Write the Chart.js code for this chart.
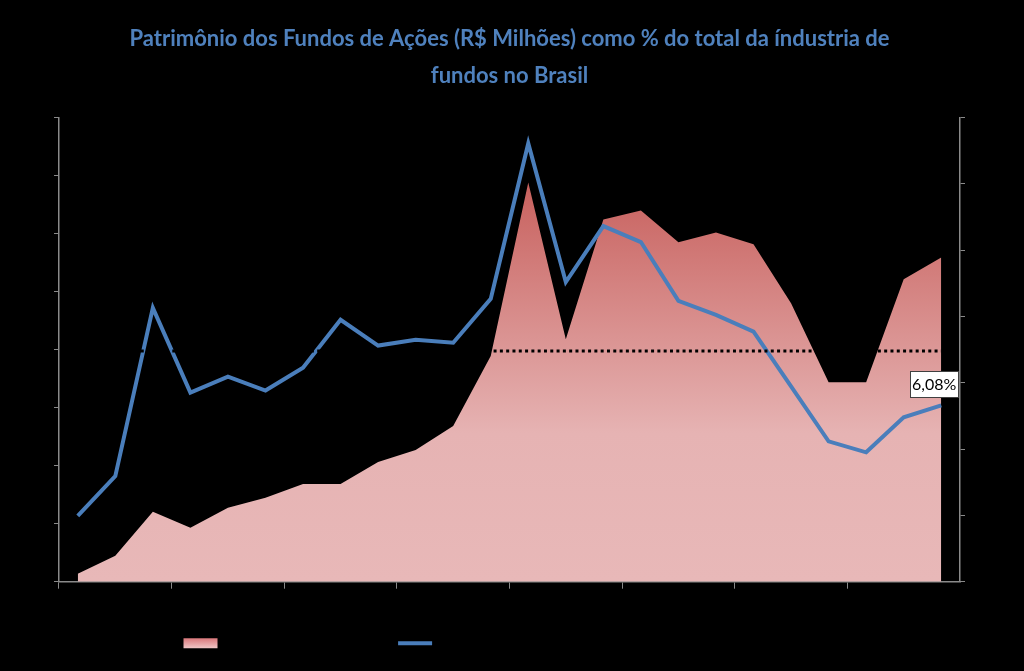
<!DOCTYPE html>
<html>
<head>
<meta charset="utf-8">
<script src="https://cdn.jsdelivr.net/npm/chart.js@4.4.1/dist/chart.umd.min.js"></script>
<style>
  html, body { margin: 0; padding: 0; background: #000; }
  #wrap { width: 1024px; height: 671px; }
</style>
</head>
<body>
<div id="wrap"><canvas id="chart" width="1024" height="671"></canvas></div>
<script>
// Years on the category axis (labels are black on black, as in the original)
const years = ['1995', '1996', '1997', '1998', '1999', '2000', '2001', '2002',
    '2003', '2004', '2005', '2006', '2007', '2008', '2009', '2010',
    '2011', '2012', '2013', '2014', '2015', '2016', '2017', '2018'];

// Patrimônio dos fundos de ações, R$ milhões (left axis)
const patrimonio = [2750, 8950, 24100, 18600, 25500, 28900, 33700, 33700,
    41300, 45400, 53700, 77800, 137600, 83600, 124900, 128000,
    117000, 120400, 116300, 96000, 68800, 68800, 104300, 111800];

// Participação no total da indústria de fundos, % (right axis)
const participacao = [2.27, 3.64, 9.44, 6.52, 7.07, 6.59, 7.38, 9.03,
    8.14, 8.34, 8.24, 9.75, 15.11, 10.33, 12.26, 11.71,
    9.68, 9.20, 8.62, 6.73, 4.84, 4.46, 5.67, 6.08];

// Dotted reference level (left axis)
const media = [79500, 79500, 79500, 79500, 79500, 79500, 79500, 79500,
    79500, 79500, 79500, 79500, 79500, 79500, 79500, 79500,
    79500, 79500, 79500, 79500, 79500, 79500, 79500, 79500];

const axisGray = '#8a8a8a';
const lineBlue = '#4a7ebb';

function areaGradient(context) {
    const chart = context.chart;
    const area = chart.chartArea;
    if (!area) {
        return '#e3aaaa';
    }
    const g = chart.ctx.createLinearGradient(0, area.top, 0, area.bottom);
    g.addColorStop(0, '#c25250');
    g.addColorStop(0.15, '#c8625f');
    g.addColorStop(0.68, '#e6b3b3');
    g.addColorStop(1, '#e8b8b8');
    return g;
}

// Boxed label next to the last point of the percentage line
const lastLabel = {
    id: 'lastLabel',
    afterDatasetsDraw(chart) {
        const meta = chart.getDatasetMeta(1);
        const pt = meta.data[meta.data.length - 1];
        if (!pt) return;
        const value = participacao[participacao.length - 1];
        const text = value.toFixed(2).replace('.', ',') + '%';
        const ctx = chart.ctx;
        ctx.save();
        ctx.font = '16px Lato, "Open Sans", sans-serif';
        const w = ctx.measureText(text).width + 4;
        const h = 26;
        const cx = pt.x - 7;
        const cy = pt.y - 21;
        ctx.fillStyle = '#ffffff';
        ctx.fillRect(cx - w / 2, cy - h / 2, w, h);
        ctx.strokeStyle = '#404040';
        ctx.lineWidth = 1;
        ctx.strokeRect(Math.round(cx - w / 2) + 0.5, Math.round(cy - h / 2) + 0.5, Math.round(w), h);
        ctx.fillStyle = '#000000';
        ctx.textAlign = 'center';
        ctx.textBaseline = 'middle';
        ctx.fillText(text, cx, cy + 1);
        ctx.restore();
    }
};

const ctx = document.getElementById('chart').getContext('2d');

new Chart(ctx, {
    type: 'line',
    data: {
        labels: years,
        datasets: [{
            label: 'Patrimônio (R$ Milhões)',
            data: patrimonio,
            yAxisID: 'y',
            fill: 'origin',
            backgroundColor: areaGradient,
            borderWidth: 0,
            pointRadius: 0,
            tension: 0,
            order: 3
        }, {
            label: 'Participação dos Fundos de Ações no total da indústria (%)',
            data: participacao,
            yAxisID: 'y1',
            borderColor: lineBlue,
            backgroundColor: lineBlue,
            borderWidth: 4,
            pointRadius: 0,
            tension: 0,
            order: 2
        }, {
            label: 'Média',
            data: media,
            yAxisID: 'y',
            borderColor: '#000000',
            borderWidth: 3,
            borderDash: [3, 3.3],
            borderCapStyle: 'butt',
            pointRadius: 0,
            fill: false,
            order: 1
        }]
    },
    options: {
        responsive: false,
        animation: false,
        layout: {
            padding: { left: 54, right: 59, top: 0, bottom: 10 }
        },
        plugins: {
            title: {
                display: true,
                text: ['Patrimônio dos Fundos de Ações (R$ Milhões) como % do total da índustria de',
                    'fundos no Brasil'],
                color: '#4f81bd',
                font: { family: 'Lato, "Open Sans", sans-serif', size: 22, weight: 'bold', lineHeight: 1.65 },
                padding: { top: 21, bottom: 24 }
            },
            legend: {
                position: 'bottom',
                labels: {
                    color: '#000000',
                    font: { family: 'Lato, sans-serif', size: 15.5 },
                    usePointStyle: true,
                    pointStyleWidth: 34,
                    boxHeight: 10,
                    padding: 10,
                    filter: (item) => item.datasetIndex !== 2,
                    sort: (a, b) => a.datasetIndex - b.datasetIndex,
                    generateLabels(chart) {
                        const items = Chart.defaults.plugins.legend.labels.generateLabels(chart);
                        items.forEach(item => {
                            if (item.datasetIndex === 0) {
                                const g = chart.ctx.createLinearGradient(0, 638, 0, 650);
                                g.addColorStop(0, '#d9767a');
                                g.addColorStop(1, '#f4d4d4');
                                item.fillStyle = g;
                                item.pointStyle = 'rect';
                                item.lineWidth = 0;
                            } else if (item.datasetIndex === 1) {
                                item.pointStyle = 'line';
                                item.strokeStyle = lineBlue;
                                item.lineWidth = 4;
                            }
                        });
                        return items;
                    }
                }
            },
            tooltip: { enabled: false }
        },
        scales: {
            x: {
                type: 'category',
                offset: true,
                grid: {
                    offset: true,
                    drawOnChartArea: false,
                    tickLength: 7,
                    color: (c) => (c.index % 3 === 0 ? axisGray : 'rgba(0,0,0,0)')
                },
                border: { color: axisGray, width: 1.5 },
                ticks: {
                    color: '#000000',
                    autoSkip: false,
                    maxRotation: 0,
                    padding: 10,
                    font: { family: 'Lato, sans-serif', size: 14 }
                }
            },
            y: {
                position: 'left',
                min: 0,
                max: 160000,
                ticks: { display: false, stepSize: 20000 },
                grid: { drawOnChartArea: false, tickLength: 5, color: axisGray },
                border: { color: axisGray, width: 1.5 }
            },
            y1: {
                position: 'right',
                min: 0,
                max: 16,
                ticks: { display: false, count: 8 },
                grid: { drawOnChartArea: false, tickLength: 5, color: axisGray },
                border: { color: axisGray, width: 1.5 }
            }
        }
    },
    plugins: [lastLabel]
});
</script>
</body>
</html>
